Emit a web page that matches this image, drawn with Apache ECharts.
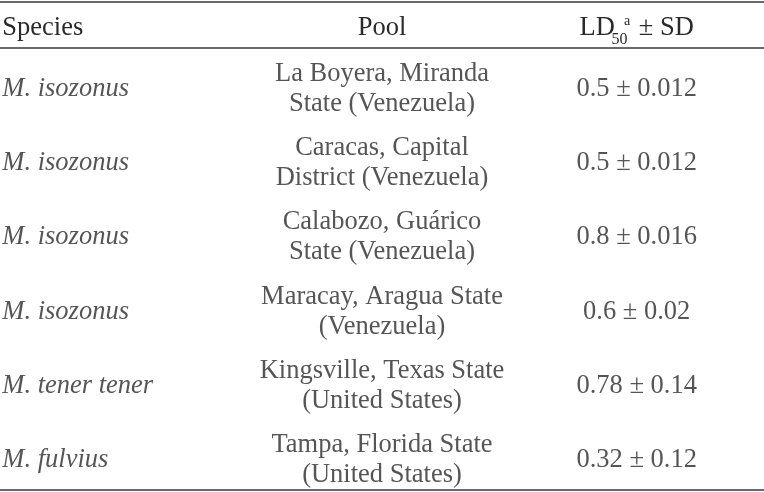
<!DOCTYPE html>
<html>
<head>
<meta charset="utf-8">
<script src="https://cdn.jsdelivr.net/npm/echarts@6/dist/echarts.min.js"></script>
<style>html,body{margin:0;padding:0;background:#fff}#c{width:764px;height:492px}</style>
</head>
<body>
<div id="c"></div>
<script>
var columns = ['Species', 'Pool', 'LD50'];
var rows = ['r1', 'r2', 'r3', 'r4', 'r5', 'r6'];
var species = ['M. isozonus', 'M. isozonus', 'M. isozonus', 'M. isozonus', 'M. tener tener', 'M. fulvius'];
var pools = [
  'La Boyera, Miranda\nState (Venezuela)',
  'Caracas, Capital\nDistrict (Venezuela)',
  'Calabozo, Guárico\nState (Venezuela)',
  'Maracay, Aragua State\n(Venezuela)',
  'Kingsville, Texas State\n(United States)',
  'Tampa, Florida State\n(United States)'
];
var ld50 = ['0.5 ± 0.012', '0.5 ± 0.012', '0.8 ± 0.016', '0.6 ± 0.02', '0.78 ± 0.14', '0.32 ± 0.12'];

var FONT = '"Liberation Serif", "Times New Roman", serif';
var FS = 26.5;
var TXT = '#2a2a2a';
var LINE = '#6a6a6a';

function colData(colName, texts) {
  return texts.map(function (t, i) { return { value: [colName, rows[i]], text: t }; });
}

var chart = echarts.init(document.getElementById('c'), null, { renderer: 'canvas' });
chart.setOption({
  animation: false,
  backgroundColor: '#fff',
  grid: [
    { left: 0, right: 0, top: 52, height: 445, containLabel: false, outerBoundsMode: 'none' }
  ],
  xAxis: [
    { type: 'category', data: columns, position: 'top', offset: 50,
      axisLine: { lineStyle: { color: LINE, width: 2 } }, axisTick: { show: false }, axisLabel: { show: false } },
    { type: 'category', data: columns, position: 'bottom', offset: -7,
      axisLine: { lineStyle: { color: LINE, width: 2 } }, axisTick: { show: false }, axisLabel: { show: false } },
    { type: 'category', data: columns, position: 'top', offset: 4,
      axisLine: { lineStyle: { color: LINE, width: 2 } }, axisTick: { show: false },
      axisLabel: {
        interval: 0, hideOverlap: false, margin: 2, color: TXT,
        formatter: function (v) {
          if (v === 'Species') return '{l|Species}';
          if (v === 'Pool') return '{m|Pool}';
          return '{m|LD}{sub|50}{sup|a}{m| ± SD}';
        },
        rich: {
          l: { width: 250, align: 'left', fontFamily: FONT, fontSize: FS, lineHeight: 36, color: TXT },
          m: { fontFamily: FONT, fontSize: FS, lineHeight: 36, color: TXT },
          sub: { fontFamily: FONT, fontSize: 16, lineHeight: 14, width: 9, verticalAlign: 'top', padding: [22, 0, 0, 0], color: TXT },
          sup: { fontFamily: FONT, fontSize: 14, lineHeight: 14, verticalAlign: 'top', padding: [4, 2, 0, 0], color: TXT }
        }
      } }
  ],
  yAxis: [
    { type: 'category', data: rows, inverse: true, show: false }
  ],
  series: [
    { type: 'scatter', xAxisIndex: 2, symbolSize: 0, silent: true,
      data: colData('Species', species),
      label: { show: true, position: 'inside', formatter: function (p) { return '{s|' + p.data.text + '}'; },
        rich: { s: { width: 250, align: 'left', fontFamily: FONT, fontSize: FS, fontStyle: 'italic', color: TXT } } } },
    { type: 'scatter', xAxisIndex: 2, symbolSize: 0, silent: true,
      data: colData('Pool', pools),
      label: { show: true, position: 'inside', align: 'center', formatter: function (p) { return p.data.text; },
        fontFamily: FONT, fontSize: FS, lineHeight: 30, color: TXT } },
    { type: 'scatter', xAxisIndex: 2, symbolSize: 0, silent: true,
      data: colData('LD50', ld50),
      label: { show: true, position: 'inside', formatter: function (p) { return p.data.text; },
        fontFamily: FONT, fontSize: FS, color: TXT } }
  ]
});
</script>
</body>
</html>
